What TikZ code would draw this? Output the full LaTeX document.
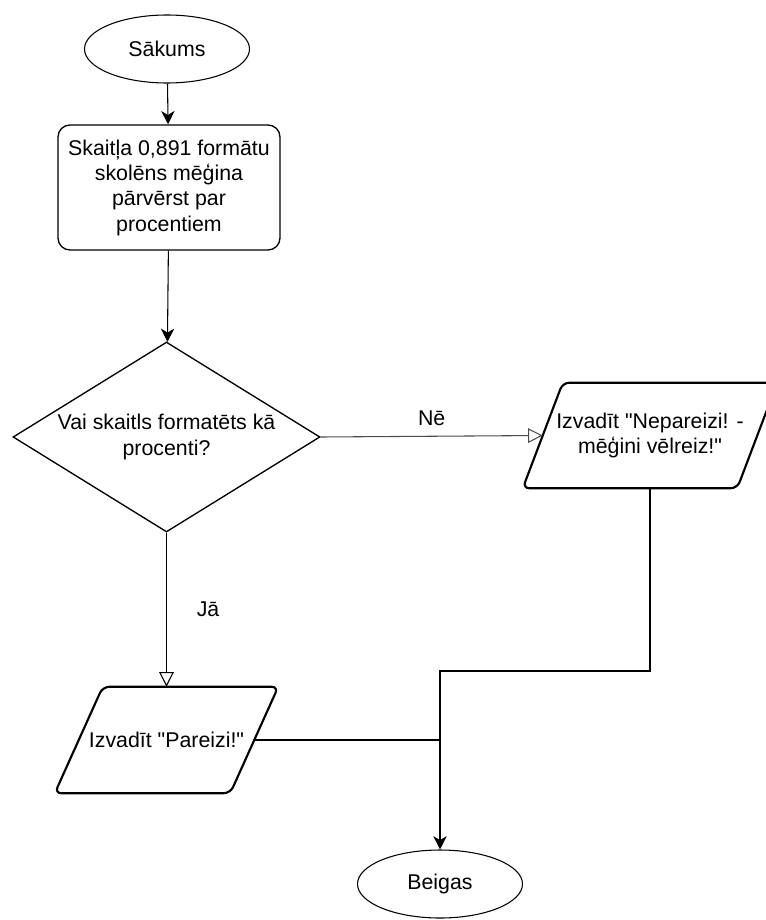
\documentclass[tikz,border=0pt]{standalone}
\usepackage{fontspec}
\setmainfont{Liberation Sans}[Ligatures=TeXOff]
\usetikzlibrary{shapes.geometric,arrows.meta}

\tikzset{
  terminal/.style={ellipse, draw, line width=0.8pt, minimum width=123.75pt, minimum height=51pt, inner sep=0pt},
  process/.style={rectangle, rounded corners=9pt, draw, line width=1pt, minimum width=166.5pt, minimum height=93.75pt, align=center},
  decision/.style={diamond, aspect=1.62, draw, line width=1pt, minimum width=230.25pt, minimum height=142.5pt, inner sep=0pt, align=center},
  inout/.style={rectangle, inner sep=0pt, align=center},
  outline/.style={rounded corners=5pt, line width=1.6pt},
  flow/.style={-{Stealth[length=10pt,width=10pt,inset=3pt]}, line width=0.8pt},
  choice/.style={-{Triangle[open,length=11pt,width=11pt]}, line width=0.8pt},
}

\begin{document}
\begin{tikzpicture}[x=0.75pt, y=-0.75pt, font=\fontsize{16}{19}\selectfont]
    \useasboundingbox (0,0) rectangle (765,920);

    \node[terminal] (start) at (167,49) {Sākums};
    \node[process] (convert) at (169,187.5) {Skaitļa 0,891 formātu\\skolēns mēģina\\pārvērst par\\procentiem};
    \node[decision] (check) at (166.5,437) {Vai skaitls formatēts kā\\procenti?};
    \node[inout, minimum width=190.5pt, minimum height=78.75pt] (wrong) at (650,435.5) {Izvadīt "Nepareizi! -\\mēģini vēlreiz!"};
    \node[inout, minimum width=167.25pt, minimum height=79.5pt] (right) at (166.5,740) {Izvadīt "Pareizi!"};
    \node[terminal] (stop) at (440,884) {Beigas};

    % slanted output boxes
    \draw[outline] ([xshift=30pt]wrong.north west) -- (wrong.north east)
        -- ([xshift=-30pt]wrong.south east) -- (wrong.south west) -- cycle;
    \draw[outline] ([xshift=36pt]right.north west) -- (right.north east)
        -- ([xshift=-36pt]right.south east) -- (right.south west) -- cycle;

    \coordinate (join) at (440,671);

    \draw[flow] (start) -- (convert);
    \draw[flow] (convert) -- (check);
    \draw[choice, black!70] (check.east) -- node[above=4pt, black] {Nē} ([xshift=15pt]wrong.west);
    \draw[choice] (check.south) -- node[right=19pt] {Jā} (right.north);
    \draw[flow] (wrong.south) |- (join) -- (stop.north);
    \draw[line width=0.8pt] ([xshift=-18pt]right.east) -- (right.east -| join);

  \end{tikzpicture}
\end{document}
